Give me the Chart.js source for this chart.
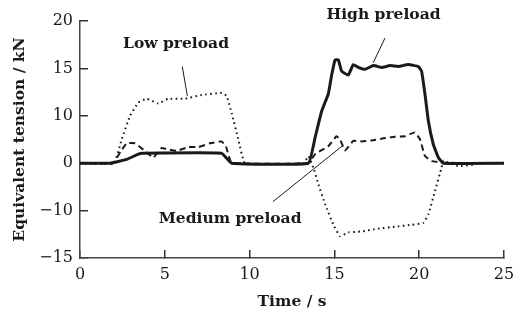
<!DOCTYPE html>
<html>
<head>
<meta charset="utf-8">
<script src="https://cdn.jsdelivr.net/npm/chart.js@4.4.1/dist/chart.umd.min.js"></script>
<style>
  body { margin: 0; background: #fff; }
  canvas { display: block; }
</style>
</head>
<body>
<canvas id="tensionChart" width="513" height="323"></canvas>
<script>
// tick labels as printed on the original (the y axis is not linear)
const xTicks = [0, 5, 10, 15, 20, 25];
const yTicks = [-15, -10, 0, 10, 15, 20];

// time (s) and equivalent tension (kN)
const highT = [0, 1.77, 2.75, 3.44, 3.7, 8.35, 8.94, 13.46, 13.86, 14.25, 14.64, 14.84, 15.04, 15.23, 15.43, 15.82, 16.11, 16.41, 16.8, 17.3, 17.79, 18.28, 18.77, 19.36, 19.95, 20.14, 20.34, 20.54, 20.83, 21.13, 21.42, 25];
const highV = [0, 0, 0.8, 1.9, 2.1, 2.1, 0, 0, 5.4, 10.5, 12.3, 14.3, 15.9, 15.9, 14.7, 14.3, 15.4, 15.1, 14.9, 15.3, 15.1, 15.3, 15.2, 15.4, 15.2, 14.7, 12.3, 8.9, 4, 1.2, 0, 0];

const medT = [0, 1.95, 2.4, 2.75, 3.24, 3.83, 4.32, 4.81, 5.2, 5.7, 6.39, 6.98, 7.66, 8.35, 8.6, 8.94, 13.46, 13.86, 14.64, 15.13, 15.33, 15.63, 16.11, 16.6, 17.19, 17.98, 18.57, 19.16, 19.75, 20.05, 20.34, 20.73, 21.32, 25];
const medV = [0, 0, 2.5, 4.2, 4.2, 2.6, 1.2, 3.2, 2.9, 2.6, 3.4, 3.4, 4.2, 4.6, 3.6, 0.1, 0, 1.9, 3.6, 5.7, 5.0, 2.7, 4.7, 4.6, 4.8, 5.3, 5.6, 5.7, 6.5, 5.0, 1.5, 0.5, 0.1, 0];

const lowT = [0, 2.0, 2.46, 2.95, 3.44, 3.93, 4.62, 5.2, 6.19, 7.17, 8.35, 8.65, 8.94, 9.34, 9.73, 13.2, 13.46, 13.76, 14.05, 14.45, 14.94, 15.33, 15.82, 16.6, 17.59, 18.57, 19.55, 20.24, 20.54, 20.93, 21.32, 21.42, 22.3, 23.1, 23.4, 25];
const lowV = [0, 0, 5.05, 10, 11.4, 11.8, 11.3, 11.8, 11.8, 12.2, 12.4, 12.1, 10.3, 5, 0, 0, 1.5, -0.9, -4.4, -8.6, -11.5, -12.7, -12.3, -12.2, -11.9, -11.7, -11.5, -11.3, -10.4, -5.9, -0.9, 0.5, -0.6, -0.4, 0, 0];

const seriesNames = ["High preload", "Medium preload", "Low preload"];

// callouts: text position and leader line, in data units
const notes = [
  { text: "Low preload", x: 5.66, y: 17.6, line: [[6.03, 15.2], [6.33, 12.1]] },
  { text: "High preload", x: 17.9, y: 20.6, line: [[17.98, 18.2], [17.29, 15.6]] },
  { text: "Medium preload", x: 8.85, y: -10.9, line: [[11.38, -8.1], [15.45, 3.6]] }
];

function pts(t, v) {
  return t.map((x, i) => ({ x: x, y: v[i] }));
}

// linear scale whose ticks are evenly spaced even though their values are not
class StepScale extends Chart.LinearScale {
  buildTicks() {
    return yTicks.map(v => ({ value: v }));
  }
  getPixelForValue(value) {
    if (value === null || value === undefined) return NaN;
    const n = yTicks.length - 1;
    let i = 0;
    while (i < n - 1 && value > yTicks[i + 1]) i++;
    const f = (value - yTicks[i]) / (yTicks[i + 1] - yTicks[i]);
    return this.getPixelForDecimal((i + f) / n);
  }
  getValueForPixel(pixel) {
    const n = yTicks.length - 1;
    const d = this.getDecimalForPixel(pixel) * n;
    let i = Math.min(Math.max(Math.floor(d), 0), n - 1);
    return yTicks[i] + (d - i) * (yTicks[i + 1] - yTicks[i]);
  }
}
StepScale.id = "step";
StepScale.defaults = Chart.LinearScale.defaults;
Chart.register(StepScale);

const ink = "#1a1a1a";
const axisColor = "#333";
const serif = "'DejaVu Serif', serif";

const callouts = {
  id: "callouts",
  afterDatasetsDraw(chart) {
    const c = chart.ctx;
    const xs = chart.scales.x;
    const ys = chart.scales.y;
    c.save();
    c.setLineDash([]);
    c.fillStyle = ink;
    c.strokeStyle = ink;
    c.lineWidth = 1;
    c.font = "bold 15.5px " + serif;
    c.textAlign = "center";
    c.textBaseline = "middle";
    notes.forEach(n => {
      c.fillText(n.text, xs.getPixelForValue(n.x), ys.getPixelForValue(n.y));
      c.beginPath();
      c.moveTo(xs.getPixelForValue(n.line[0][0]), ys.getPixelForValue(n.line[0][1]));
      c.lineTo(xs.getPixelForValue(n.line[1][0]), ys.getPixelForValue(n.line[1][1]));
      c.stroke();
    });
    c.restore();
  }
};

const ctx = document.getElementById("tensionChart").getContext("2d");
const tensionChart = new Chart(ctx, {
  type: "line",
  data: {
    datasets: [
      { label: seriesNames[2], data: pts(lowT, lowV), borderColor: ink, borderWidth: 2, borderDash: [1.6, 3.4], borderCapStyle: "butt" },
      { label: seriesNames[1], data: pts(medT, medV), borderColor: ink, borderWidth: 2, borderDash: [6, 4] },
      { label: seriesNames[0], data: pts(highT, highV), borderColor: ink, borderWidth: 3 }
    ]
  },
  options: {
    responsive: false,
    animation: false,
    elements: { point: { radius: 0 }, line: { tension: 0.1, fill: false } },
    layout: { padding: { top: 21, right: 0, left: 0, bottom: 0 } },
    plugins: { legend: { display: false }, tooltip: { enabled: false } },
    scales: {
      x: {
        type: "linear",
        min: 0,
        max: 25,
        afterBuildTicks: axis => { axis.ticks = xTicks.map(v => ({ value: v })); },
        afterFit: axis => { axis.height = 65; axis.paddingRight = 9; },
        // negative tick length turns the tick marks inward
        grid: { display: true, drawOnChartArea: false, drawTicks: true, tickLength: -8, color: axisColor, lineWidth: 1.5 },
        border: { display: true, color: "#444", width: 1.5 },
        ticks: { color: ink, padding: 15, font: { family: serif, size: 16 } },
        title: { display: true, text: "Time / s", color: ink, padding: { top: 0, bottom: 12 }, font: { family: serif, size: 15.5, weight: "bold" } }
      },
      y: {
        type: "step",
        min: -15,
        max: 20,
        afterFit: axis => { axis.width = 80; axis.paddingTop = 0; axis.paddingBottom = 0; },
        grid: { display: true, drawOnChartArea: false, drawTicks: true, tickLength: -8, color: axisColor, lineWidth: 1.5 },
        border: { display: true, color: "#444", width: 1.5 },
        ticks: {
          color: ink,
          padding: 15,
          font: { family: serif, size: 16 },
          callback: v => (v < 0 ? "\u2212" + Math.abs(v) : String(v))
        },
        title: { display: true, text: "Equivalent tension / kN", color: ink, padding: { top: 11, bottom: 0 }, font: { family: serif, size: 15.5, weight: "bold" } }
      }
    }
  },
  plugins: [callouts]
});
</script>
</body>
</html>
